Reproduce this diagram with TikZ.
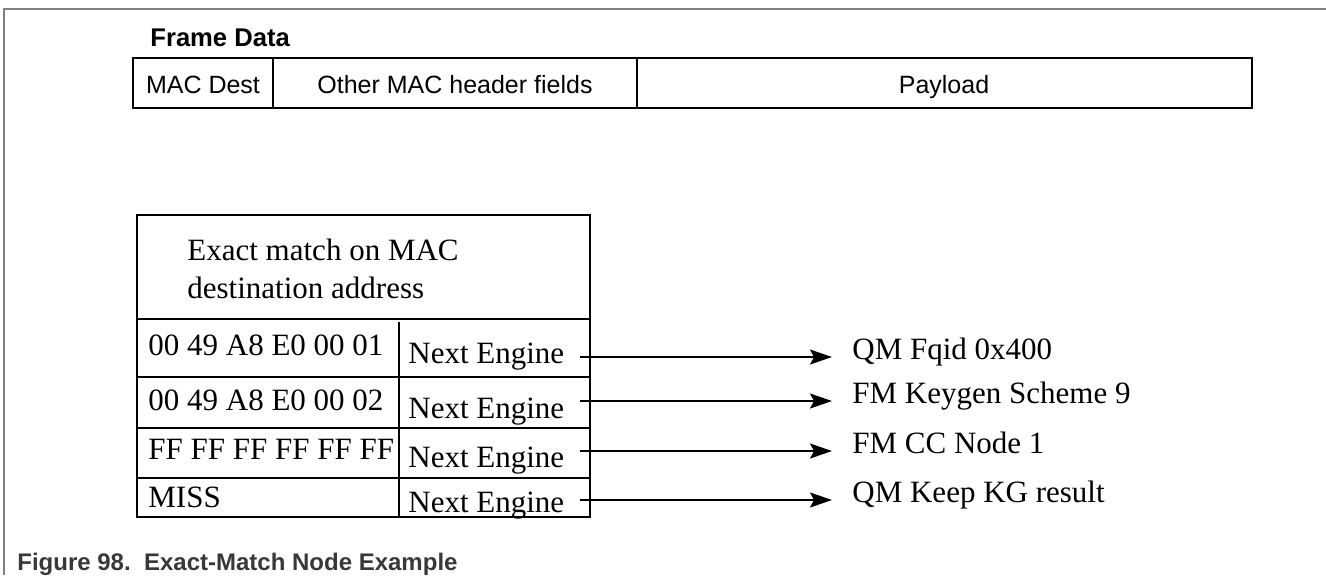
\documentclass[tikz,border=0pt]{standalone}
\usepackage{fontspec}
\setmainfont{Liberation Serif}
\setsansfont{Liberation Sans}
\usetikzlibrary{arrows.meta}

\begin{document}
\begin{tikzpicture}[
    x=0.5pt, y=-0.5pt,
    line/.style={line width=1pt},
    field/.style={font=\sffamily\fontsize{12.5}{15}\selectfont, anchor=base, inner sep=0pt},
    entry/.style={font=\fontsize{15.5}{19}\selectfont, anchor=base west, inner sep=0pt},
    target/.style={font=\fontsize{15.5}{19}\selectfont, anchor=west, inner xsep=10pt, inner ysep=0pt, text height=0.6em, text depth=0.35em},
    arrow/.style={line width=0.75pt, -{Stealth[length=11pt, width=7.5pt, inset=2pt]}}
]
\useasboundingbox (0,0) rectangle (1326,575);

% page frame
\draw [gray, line width=0.7pt] (4,575) -- (4,9) -- (1326,9);

% frame data bar
\node (framedata) [anchor=base west, inner sep=0pt, font=\sffamily\bfseries\fontsize{12.8}{15}\selectfont] at (150,46) {Frame Data};
\draw [line] (133,58) rectangle (1252,108);
\draw [line] (273,58) -- (273,108);
\draw [line] (637,58) -- (637,108);
\node (macdest) [field] at (203,93) {MAC Dest};
\node (other) [field] at (455,93) {Other MAC header fields};
\node (payload) [field] at (944,93) {Payload};

% exact match table
\draw [line] (137,215) rectangle (590,517);
\draw [line] (137,319) -- (590,319);
\draw [line] (137,377) -- (590,377);
\draw [line] (137,428) -- (590,428);
\draw [line] (137,478) -- (590,478);
\draw [line] (399,322) -- (399,517);
\node (header) [anchor=north west, inner sep=0pt, align=left, font=\fontsize{15.5}{19}\selectfont] at (187,239) {Exact match on MAC\\destination address};

\node (key1) [entry] at (148,355) {00 49 A8 E0 00 01};
\node (key2) [entry] at (148,410) {00 49 A8 E0 00 02};
\node (key3) [entry] at (148,459) {FF FF FF FF FF FF};
\node (miss) [entry] at (148,507) {MISS};

\node (next1) [entry] at (408,363) {Next Engine};
\node (next2) [entry] at (408,418) {Next Engine};
\node (next3) [entry] at (408,467) {Next Engine};
\node (next4) [entry] at (408,512) {Next Engine};

\node (qmfqid) [target] at (832,357) {QM Fqid 0x400};
\node (keygen) [target] at (832,401) {FM Keygen Scheme 9};
\node (ccnode) [target] at (832,451) {FM CC Node 1};
\node (keepkg) [target] at (832,500) {QM Keep KG result};

\draw [arrow] ([xshift=7.5pt]next1.east |- qmfqid.west) -- (qmfqid.west);
\draw [arrow] ([xshift=7.5pt]next2.east |- keygen.west) -- (keygen.west);
\draw [arrow] ([xshift=7.5pt]next3.east |- ccnode.west) -- (ccnode.west);
\draw [arrow] ([xshift=7.5pt]next4.east |- keepkg.west) -- (keepkg.west);

\node (caption) [anchor=base west, inner sep=0pt, text=black!78, font=\sffamily\bfseries\fontsize{12}{14}\selectfont] at (17,570) {Figure 98.\ \ Exact-Match Node Example};
\end{tikzpicture}
\end{document}
